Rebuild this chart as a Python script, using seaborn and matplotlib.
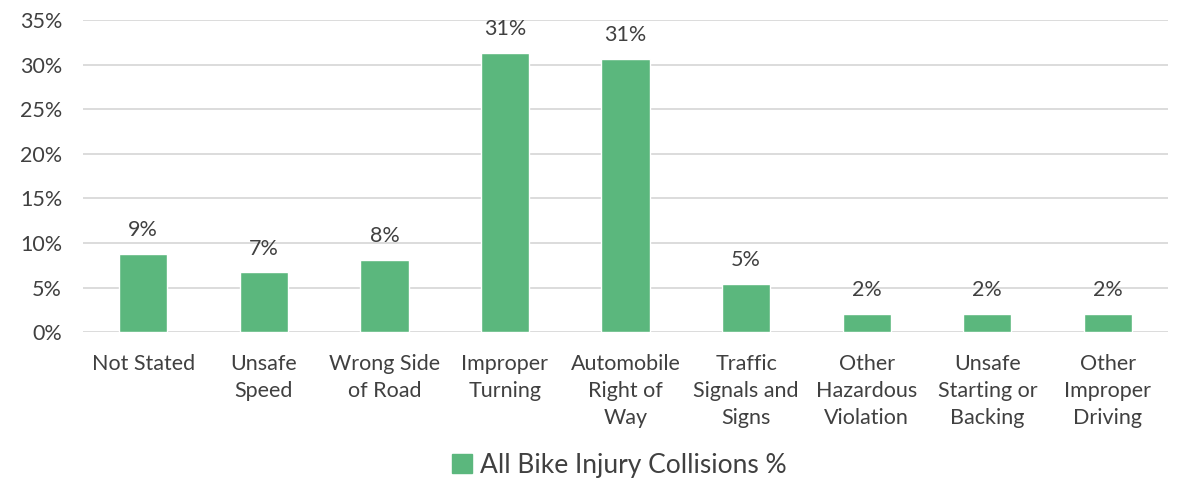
import pandas as pd
import seaborn as sns
import matplotlib.pyplot as plt
from matplotlib.patches import Patch
from matplotlib.ticker import FuncFormatter

categories = [
    "Not Stated", "Unsafe\nSpeed", "Wrong Side\nof Road", "Improper\nTurning",
    "Automobile\nRight of\nWay", "Traffic\nSignals and\nSigns", "Other\nHazardous\nViolation",
    "Unsafe\nStarting or\nBacking", "Other\nImproper\nDriving",
]
values = [8.8, 6.7, 8.1, 31.3, 30.6, 5.4, 2.0, 2.0, 2.0]
series_name = "All Bike Injury Collisions %"

bar_color = "#5BB77D"
text_color = "#404040"

sns.set_style("white")
plt.rcParams["font.family"] = ["Lato", "DejaVu Sans"]

df = pd.DataFrame({"category": categories, "value": values})

fig = plt.figure(figsize=(11.8, 4.8), dpi=100)
ax = fig.add_axes([0.0703, 0.308, 0.9197, 0.65])

sns.barplot(data=df, x="category", y="value", color=bar_color, width=0.4,
            saturation=1, ax=ax, zorder=3)

ax.set_ylim(0, 35)
ax.set_yticks(range(0, 36, 5))
ax.yaxis.set_major_formatter(FuncFormatter(lambda v, p: f"{v:.0f}%"))
ax.grid(axis="y", color="#D9D9D9", linewidth=1.3, zorder=0)
ax.set_axisbelow(True)
for s in ax.spines.values():
    s.set_visible(False)
ax.tick_params(axis="both", length=0, labelsize=15.5, colors=text_color)
ax.tick_params(axis="x", pad=15.5)
ax.tick_params(axis="y", pad=15)
ax.set_xlabel("")
ax.set_ylabel("")
ax.set_xlim(-0.5, len(categories) - 0.5)
for lab in ax.get_xticklabels():
    lab.set_linespacing(1.45)

ax.bar_label(ax.containers[0], labels=[f"{v:.0f}%" for v in values],
             padding=10, fontsize=15.5, color=text_color)

fig.legend(handles=[Patch(color=bar_color, label=series_name)],
           loc="center", bbox_to_anchor=(0.525, 0.031), frameon=False,
           fontsize=19, labelcolor=text_color, handlelength=0.75,
           handleheight=0.75, handletextpad=0.3)

fig.savefig("out.png", dpi=100)
